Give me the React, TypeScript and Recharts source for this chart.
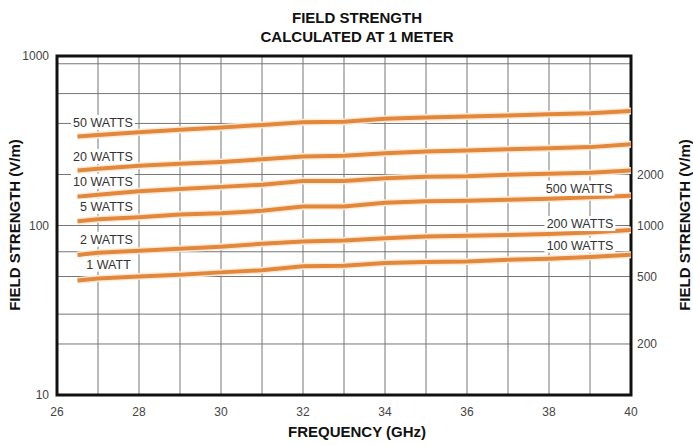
import React from 'react'
import {
  LineChart,
  Line,
  XAxis,
  YAxis,
  CartesianGrid,
  ReferenceArea,
  ReferenceDot,
} from 'recharts'

// frequency points (GHz)
const FREQ = [26.5, 27, 28, 29, 30, 31, 32, 33, 34, 35, 36, 37, 38, 39, 40]

// field strength (V/m) at 1 m, left scale
const W50 = [335, 342, 355, 367, 378, 392, 407, 410, 426, 433, 439, 445, 454, 460, 474]
const W20 = [211, 216, 225, 231, 237, 246, 255, 258, 267, 273, 277, 282, 286, 290, 302]
const W10 = [148, 152, 159, 164, 169, 174, 183, 183, 190, 194, 195, 199, 202, 205, 211]
const W5 = [106, 109, 112, 116, 118, 122, 129.5, 129.5, 136, 139, 140, 142, 144, 147, 150]
const W2 = [67, 69, 71, 73, 75, 78, 80.5, 81.5, 84, 86, 87, 88, 89, 91, 94]
const W1 = [47.3, 48.6, 50.1, 51.3, 52.9, 54.4, 57.4, 57.9, 60.1, 60.9, 61.4, 62.8, 63.7, 65.2, 67.3]

const X_TICKS = [26, 28, 30, 32, 34, 36, 38, 40]
const X_GRID = [27, 28, 29, 30, 31, 32, 33, 34, 35, 36, 37, 38, 39]
const Y_TICKS = [10, 100, 1000]
const Y_GRID = [20, 30, 40, 50, 60, 70, 80, 90, 100, 200, 300, 400, 500, 600, 700, 800, 900]
const Y_RIGHT_TICKS = [200, 500, 1000, 2000]

// curve captions, placed in data units (text ends at f)
const LABELS = [
  { text: '50 WATTS', f: 27.85, v: 403 },
  { text: '20 WATTS', f: 27.85, v: 254 },
  { text: '10 WATTS', f: 27.85, v: 181 },
  { text: '5 WATTS', f: 27.85, v: 129 },
  { text: '2 WATTS', f: 27.85, v: 82.4 },
  { text: '1 WATT', f: 27.8, v: 58.7 },
  { text: '500 WATTS', f: 39.55, v: 165 },
  { text: '200 WATTS', f: 39.57, v: 102 },
  { text: '100 WATTS', f: 39.57, v: 76 },
]

const SERIES = [
  { key: 'w50', values: W50 },
  { key: 'w20', values: W20 },
  { key: 'w10', values: W10 },
  { key: 'w5', values: W5 },
  { key: 'w2', values: W2 },
  { key: 'w1', values: W1 },
]

const data = FREQ.map((f, i) => {
  const row: Record<string, number> = { f }
  SERIES.forEach((s) => (row[s.key] = s.values[i]))
  return row
})

const FONT = '"Liberation Sans", Arial, Helvetica, sans-serif'
const ORANGE = '#e3873a'

function WattTag({ cx, cy, text }: { cx?: number; cy?: number; text: string }) {
  if (cx == null || cy == null) return null
  const w = text.length * 7.1 + 4
  return (
    <g>
      <rect x={cx - w - 1} y={cy - 8} width={w + 3} height={15} fill="#fff" />
      <text
        x={cx}
        y={cy}
        textAnchor="end"
        dominantBaseline="central"
        fontSize={12.5}
        fill="#333"
        fontFamily={FONT}
      >
        {text}
      </text>
    </g>
  )
}

const titleStyle: React.CSSProperties = {
  position: 'absolute',
  fontFamily: FONT,
  fontWeight: 'bold',
  fontSize: 15,
  color: '#111',
  textAlign: 'center',
  whiteSpace: 'nowrap',
}

export default function App() {
  return (
    <div style={{ position: 'absolute', left: 0, top: 0, width: 693, height: 445, background: '#fff' }}>
      <LineChart
        width={693}
        height={445}
        data={data}
        margin={{ top: 56, right: 0, bottom: 20, left: 0 }}
        style={{ fontFamily: FONT }}
      >
        <CartesianGrid
          stroke="#767676"
          strokeWidth={1}
          verticalValues={X_GRID}
          horizontalValues={Y_GRID}
        />
        <XAxis
          dataKey="f"
          type="number"
          domain={[26, 40]}
          ticks={X_TICKS}
          allowDataOverflow
          axisLine={false}
          tickLine={false}
          tickMargin={6}
          height={30}
          tick={{ fill: '#444', fontSize: 12 }}
        />
        <YAxis
          yAxisId={0}
          scale="log"
          domain={[10, 1000]}
          ticks={Y_TICKS}
          allowDataOverflow
          width={57}
          axisLine={false}
          tickLine={false}
          tick={{ fill: '#444', fontSize: 12 }}
        />
        <YAxis
          yAxisId="right"
          orientation="right"
          scale="log"
          domain={[100, 10000]}
          ticks={Y_RIGHT_TICKS}
          allowDataOverflow
          width={62}
          axisLine={false}
          tickLine={false}
          tickMargin={0}
          tick={{ fill: '#444', fontSize: 12 }}
        />
        {LABELS.map((l) => (
          <ReferenceDot
            key={l.text}
            x={l.f}
            y={l.v}
            r={0}
            ifOverflow="visible"
            shape={(p: any) => <WattTag cx={p.cx} cy={p.cy} text={l.text} />}
          />
        ))}
        {SERIES.map((s) => (
          <Line
            key={s.key + '-halo'}
            dataKey={s.key}
            type="linear"
            stroke="#fdebd9"
            strokeWidth={7}
            dot={false}
            activeDot={false}
            isAnimationActive={false}
          />
        ))}
        {SERIES.map((s) => (
          <Line
            key={s.key}
            dataKey={s.key}
            type="linear"
            stroke={ORANGE}
            strokeWidth={4}
            dot={false}
            activeDot={false}
            isAnimationActive={false}
          />
        ))}
        <ReferenceArea
          x1={26}
          x2={40}
          y1={10}
          y2={1000}
          fill="none"
          stroke="#111"
          strokeWidth={3}
          ifOverflow="visible"
        />
      </LineChart>
      <div style={{ ...titleStyle, left: 0, top: 8, width: 714, lineHeight: '19px' }}>
        FIELD STRENGTH
        <br />
        CALCULATED AT 1 METER
      </div>
      <div style={{ ...titleStyle, left: 0, top: 422, width: 714, lineHeight: '19px' }}>
        FREQUENCY (GHz)
      </div>
      <div
        style={{
          ...titleStyle,
          left: 15 - 120,
          top: 225 - 10,
          width: 240,
          height: 20,
          lineHeight: '20px',
          transform: 'rotate(-90deg)',
        }}
      >
        FIELD STRENGTH (V/m)
      </div>
      <div
        style={{
          ...titleStyle,
          left: 685 - 120,
          top: 225 - 10,
          width: 240,
          height: 20,
          lineHeight: '20px',
          transform: 'rotate(-90deg)',
        }}
      >
        FIELD STRENGTH (V/m)
      </div>
    </div>
  )
}
